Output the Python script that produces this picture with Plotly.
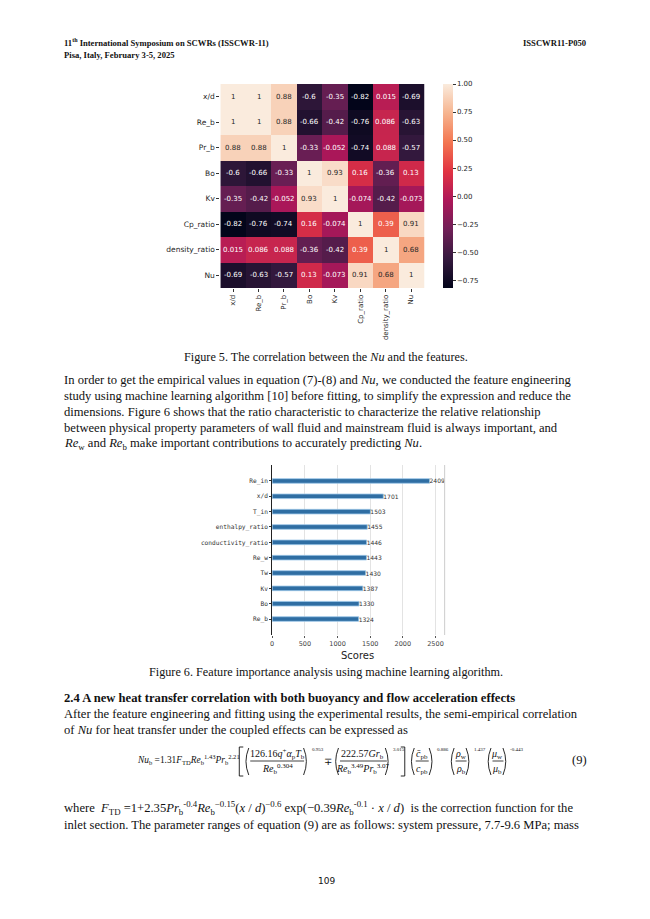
import plotly.graph_objects as go

# ---------------------------------------------------------------------------
# Data
# ---------------------------------------------------------------------------
HEAT_LABELS = ["x/d", "Re_b", "Pr_b", "Bo", "Kv", "Cp_ratio", "density_ratio", "Nu"]
CORR = [
    [1, 1, 0.88, -0.6, -0.35, -0.82, 0.015, -0.69],
    [1, 1, 0.88, -0.66, -0.42, -0.76, 0.086, -0.63],
    [0.88, 0.88, 1, -0.33, -0.052, -0.74, 0.088, -0.57],
    [-0.6, -0.66, -0.33, 1, 0.93, 0.16, -0.36, 0.13],
    [-0.35, -0.42, -0.052, 0.93, 1, -0.074, -0.42, -0.073],
    [-0.82, -0.76, -0.74, 0.16, -0.074, 1, 0.39, 0.91],
    [0.015, 0.086, 0.088, -0.36, -0.42, 0.39, 1, 0.68],
    [-0.69, -0.63, -0.57, 0.13, -0.073, 0.91, 0.68, 1],
]
CBAR_TICKS = [-0.75, -0.5, -0.25, 0.0, 0.25, 0.5, 0.75, 1.0]

FEATURE_NAMES = ["Re_in", "x/d", "T_in", "enthalpy_ratio", "conductivity_ratio",
                 "Re_w", "Tw", "Kv", "Bo", "Re_b"]
FEATURE_SCORES = [2409, 1701, 1503, 1455, 1446, 1443, 1430, 1387, 1330, 1324]
SCORE_TICKS = [0, 500, 1000, 1500, 2000, 2500]

# ---------------------------------------------------------------------------
# Page geometry / styles
# ---------------------------------------------------------------------------
# the html body has an 8px default margin, so the figure is a bit smaller
# than the window and every page coordinate is shifted back by it
OFF = 8
W, H = 650 - OFF, 919 - OFF
SERIF = "Liberation Serif"
SANS = "DejaVu Sans"
MONO = "DejaVu Sans Mono"
INK = "#111111"
BODY_X = 60
BODY_SIZE = 12.6
CAP_SIZE = 12.2
EQ_SIZE = 10

# seaborn "rocket"
ROCKET = [
    [0.0, "#03051A"], [0.143, "#35193E"], [0.286, "#701F57"], [0.429, "#AD1759"],
    [0.571, "#E13342"], [0.714, "#F37651"], [0.857, "#F6B48F"], [1.0, "#FAEBDD"],
]


def px(x):
    return (x - OFF) / W


def py(y):
    return 1 - (y - OFF) / H


fig = go.Figure()


def note(x, y, s, size=BODY_SIZE, anchor="left", family=SERIF, color=INK):
    fig.add_annotation(
        x=px(x), y=py(y), xref="paper", yref="paper",
        text=s, showarrow=False, xanchor=anchor, yanchor="middle",
        font=dict(family=family, size=size, color=color),
    )


def hline(x0, x1, y, width=0.8):
    fig.add_shape(type="line", xref="paper", yref="paper",
                  x0=px(x0), x1=px(x1), y0=py(y), y1=py(y),
                  line=dict(color=INK, width=width))


def paren(x, top, bot, left=True):
    # thin curved parenthesis drawn as a quadratic path
    d = 3.5 if left else -3.5
    mid = (top + bot) / 2
    path = (f"M {px(x + d)},{py(top)} Q {px(x - d * 0.6)},{py(mid)} "
            f"{px(x + d)},{py(bot)}")
    fig.add_shape(type="path", xref="paper", yref="paper", path=path,
                  line=dict(color=INK, width=0.9))


def bracket(x, top, bot, left=True):
    d = 4 if left else -4
    path = (f"M {px(x + d)},{py(top)} L {px(x)},{py(top)} "
            f"L {px(x)},{py(bot)} L {px(x + d)},{py(bot)}")
    fig.add_shape(type="path", xref="paper", yref="paper", path=path,
                  line=dict(color=INK, width=0.9))


# ---------------------------------------------------------------------------
# Figure 5: correlation heatmap
# ---------------------------------------------------------------------------
zmin = min(min(r) for r in CORR)
zmax = max(max(r) for r in CORR)

fig.add_trace(go.Heatmap(
    z=CORR, x=HEAT_LABELS, y=HEAT_LABELS,
    colorscale=ROCKET, zmin=zmin, zmax=zmax,
    xaxis="x", yaxis="y", hoverinfo="skip",
    colorbar=dict(
        x=px(442), xanchor="left", y=py(186), yanchor="middle",
        len=204, lenmode="pixels", thickness=10, thicknessmode="pixels",
        outlinewidth=0, xpad=0, ypad=0,
        tickvals=CBAR_TICKS,
        ticktext=[f"{t:.2f}".replace("-", "\u2212") for t in CBAR_TICKS],
        ticks="outside", ticklen=3, tickcolor="#333",
        tickfont=dict(family=SANS, size=7, color="#262626"),
    ),
))

for i, row_lab in enumerate(HEAT_LABELS):
    for j, col_lab in enumerate(HEAT_LABELS):
        v = CORR[i][j]
        frac = (v - zmin) / (zmax - zmin)
        fig.add_annotation(
            x=col_lab, y=row_lab, xref="x", yref="y",
            text=format(v, ".2g"), showarrow=False,
            font=dict(family=SANS, size=7,
                      color="#262626" if frac > 0.75 else "#ffffff"),
        )

# ---------------------------------------------------------------------------
# Figure 6: feature importance bars
# ---------------------------------------------------------------------------
bar_pos = list(range(len(FEATURE_NAMES)))
fig.add_trace(go.Bar(
    x=FEATURE_SCORES, y=bar_pos, orientation="h",
    xaxis="x2", yaxis="y2", width=0.3,
    marker=dict(color="#2f6ea3", line=dict(color="#9cc6e8", width=0.8)),
    text=[str(v) for v in FEATURE_SCORES], textposition="outside",
    constraintext="none", cliponaxis=False,
    textfont=dict(family=SANS, size=6, color="#333"),
    hoverinfo="skip",
))

fig.add_shape(type="line", xref="x2 domain", yref="y2 domain",
              x0=1, x1=1, y0=0, y1=1, line=dict(color="#cccccc", width=1))

note(357, 655, "Scores", size=10, anchor="center", family=SANS, color="#222")

# ---------------------------------------------------------------------------
# Page text
# ---------------------------------------------------------------------------
note(BODY_X, 43, "<b>11<sup>th</sup> International Symposium on SCWRs (ISSCWR-11)</b>", size=8.6)
note(BODY_X, 55, "<b>Pisa, Italy, February 3-5, 2025</b>", size=8.6)
note(588, 43, "<b>ISSCWR11-P050</b>", size=8.6, anchor="right")

note(325, 357, "Figure 5. The correlation between the <i>Nu</i> and the features.",
     size=CAP_SIZE, anchor="center")

para = [
    "In order to get the empirical values in equation (7)-(8) and <i>Nu</i>, we conducted the feature engineering",
    "study using machine learning algorithm [10] before fitting, to simplify the expression and reduce the",
    "dimensions. Figure 6 shows that the ratio characteristic to characterize the relative relationship",
    "between physical property parameters of wall fluid and mainstream fluid is always important, and",
    "<i>Re</i><sub>w</sub> and <i>Re</i><sub>b</sub> make important contributions to accurately predicting <i>Nu</i>.",
]
for k, line in enumerate(para):
    note(BODY_X, 380 + 16 * k, line)

note(325, 672, "Figure 6. Feature importance analysis using machine learning algorithm.",
     size=CAP_SIZE, anchor="center")
note(BODY_X, 698, "<b>2.4 A new heat transfer correlation with both buoyancy and flow acceleration effects</b>")
note(BODY_X, 714, "After the feature engineering and fitting using the experimental results, the semi-empirical correlation")
note(BODY_X, 730, "of <i>Nu</i> for heat transfer under the coupled effects can be expressed as")

# equation (9)
EQ_Y = 761
NUM_Y, DEN_Y = 754, 769
SUP_Y = 749
TOP, BOT = 748, 775
note(133, 759, "<i>Nu</i><sub>b</sub> =1.31<i>F</i><sub>TD</sub><i>Re</i><sub>b</sub><sup>1.43</sup>"
               "<i>Pr</i><sub>b</sub><sup>2.21</sup>", size=9.4)
bracket(238, TOP - 1, BOT + 1)
paren(244, TOP, BOT)
note(276, NUM_Y, "126.16<i>q</i><sup>+</sup><i>α</i><sub>p</sub><i>T</i><sub>b</sub>",
     size=EQ_SIZE, anchor="center")
hline(249, 303, EQ_Y)
note(276, DEN_Y, "<i>Re</i><sub>b</sub><sup>0.304</sup>", size=EQ_SIZE, anchor="center")
paren(306, TOP, BOT, left=False)
note(309, SUP_Y, "0.953", size=5)
note(327, EQ_Y, "∓", size=EQ_SIZE, anchor="center")
paren(334, TOP, BOT)
note(362, NUM_Y, "222.57<i>Gr</i><sub>b</sub>", size=EQ_SIZE, anchor="center")
hline(339, 386, EQ_Y)
note(362, DEN_Y, "<i>Re</i><sub>b</sub><sup>3.49</sup><i>Pr</i><sub>b</sub><sup>3.07</sup>",
     size=EQ_SIZE, anchor="center")
paren(388, TOP, BOT, left=False)
note(390, SUP_Y, "3.015", size=5)
bracket(404, TOP - 1, BOT + 1, left=False)

paren(410, TOP, BOT)
note(421, NUM_Y, "<i>c\u0304</i><sub>pb</sub>", size=EQ_SIZE, anchor="center")
hline(415, 428, EQ_Y)
note(421, DEN_Y, "<i>c</i><sub>pb</sub>", size=EQ_SIZE, anchor="center")
paren(432, TOP, BOT, left=False)
note(434, SUP_Y, "0.886", size=5)

paren(450, TOP, BOT)
note(460, NUM_Y, "<i>ρ</i><sub>w</sub>", size=EQ_SIZE, anchor="center")
hline(455, 466, EQ_Y)
note(460, DEN_Y, "<i>ρ</i><sub>b</sub>", size=EQ_SIZE, anchor="center")
paren(469, TOP, BOT, left=False)
note(471, SUP_Y, "1.437", size=5)

paren(487, TOP, BOT)
note(497, NUM_Y, "<i>μ</i><sub>w</sub>", size=EQ_SIZE, anchor="center")
hline(492, 503, EQ_Y)
note(497, DEN_Y, "<i>μ</i><sub>b</sub>", size=EQ_SIZE, anchor="center")
paren(506, TOP, BOT, left=False)
note(508, SUP_Y, "-0.443", size=5)

note(579, 760, "(9)", size=12.5, anchor="center")

note(BODY_X, 808,
     "where  <i>F</i><sub>TD</sub> =1+2.35<i>Pr</i><sub>b</sub><sup>-0.4</sup>"
     "<i>Re</i><sub>b</sub><sup>−0.15</sup>(<i>x</i> / <i>d</i>)<sup>−0.6</sup>"
     " exp(−0.39<i>Re</i><sub>b</sub><sup>-0.1</sup> · <i>x</i> / <i>d</i>)"
     "  is the correction function for the")
note(BODY_X, 825, "inlet section. The parameter ranges of equation (9) are as follows: "
                  "system pressure, 7.7-9.6 MPa; mass")

note(325, 881, "109", size=9, anchor="center", family=SANS)

# ---------------------------------------------------------------------------
# Layout
# ---------------------------------------------------------------------------
fig.update_layout(
    width=W, height=H,
    margin=dict(l=0, r=0, t=0, b=0),
    paper_bgcolor="white", plot_bgcolor="white",
    showlegend=False,
    xaxis=dict(
        domain=[px(219), px(424)], anchor="y",
        tickangle=-90, ticks="outside", ticklen=3, tickcolor="#333",
        tickfont=dict(family=SANS, size=7, color="#262626"),
        showgrid=False, zeroline=False, showline=False,
    ),
    yaxis=dict(
        domain=[py(288), py(84)], anchor="x", autorange="reversed",
        ticks="outside", ticklen=3, tickcolor="#333",
        tickfont=dict(family=SANS, size=7.5, color="#262626"),
        showgrid=False, zeroline=False, showline=False,
    ),
    xaxis2=dict(
        domain=[px(271), px(444)], anchor="y2",
        range=[0, 2640], tickvals=SCORE_TICKS,
        ticks="outside", ticklen=2, tickcolor="#555",
        tickfont=dict(family=SANS, size=6.5, color="#444"),
        showgrid=True, gridcolor="#e3e3e3", gridwidth=1,
        zeroline=False, showline=False,
    ),
    yaxis2=dict(
        domain=[py(635), py(465)], anchor="x2",
        range=[len(FEATURE_NAMES) - 1 + 1.04, -1.04],
        tickvals=bar_pos, ticktext=FEATURE_NAMES,
        ticks="outside", ticklen=2, tickcolor="#333",
        tickfont=dict(family=MONO, size=6.2, color="#333"),
        showgrid=False, zeroline=False,
        showline=True, linecolor="#222", linewidth=1,
    ),
)

fig.write_html("out.html")
